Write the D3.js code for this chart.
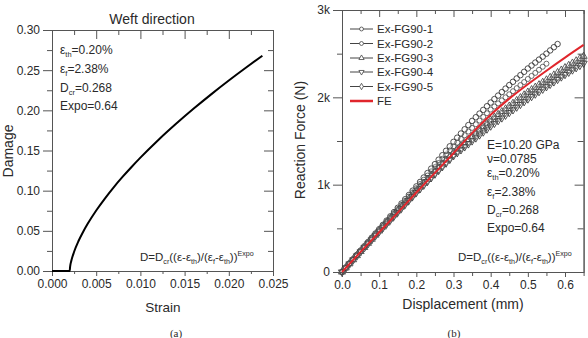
<!DOCTYPE html>
<html><head><meta charset="utf-8">
<script src="https://cdn.jsdelivr.net/npm/d3@7"></script>
<style>
body{margin:0;background:#fff}
svg{font-family:"Liberation Sans",Arial,sans-serif}
</style></head>
<body><svg id="c" width="588" height="338"></svg>
<script>
// ---------- DATA: panel (a) ----------
const strain = [0, 0.001, 0.002, 0.00205, 0.0022, 0.0025, 0.003, 0.0035, 0.004, 0.005, 0.006, 0.007, 0.008, 0.009, 0.010, 0.012, 0.014, 0.016, 0.018, 0.020, 0.022, 0.0238];
const damage = [0, 0, 0, 0.0055, 0.0133, 0.0239, 0.0373, 0.0483, 0.0581, 0.0753, 0.0905, 0.1045, 0.1174, 0.1295, 0.1411, 0.1628, 0.1829, 0.2019, 0.2199, 0.2371, 0.2536, 0.268];
const strainTicks = [0, 0.005, 0.010, 0.015, 0.020, 0.025];
const strainMinor = [0.0025, 0.0075, 0.0125, 0.0175, 0.0225];
const damageTicks = [0, 0.05, 0.10, 0.15, 0.20, 0.25, 0.30];
const damageMinor = [0.025, 0.075, 0.125, 0.175, 0.225, 0.275];
const titleA = "Weft direction";
const annotA = [["ε","th","=0.20%"],["ε","f","=2.38%"],["D","cr","=0.268"],["Expo=0.64","",""]];

// ---------- DATA: panel (b) ----------
const displacement = [0,0.01,0.02,0.03,0.04,0.05,0.06,0.07,0.08,0.09,0.10,0.11,0.12,0.13,0.14,0.15,0.16,0.17,0.18,0.19,0.20,0.21,0.22,0.23,0.24,0.25,0.26,0.27,0.28,0.29,0.30,0.31,0.32,0.33,0.34,0.35,0.36,0.37,0.38,0.39,0.40,0.41,0.42,0.43,0.44,0.45,0.46,0.47,0.48,0.49,0.50,0.51,0.52,0.53,0.54,0.55,0.56,0.57,0.58,0.59,0.60,0.61,0.62,0.63,0.64,0.65];
const force1 = [0,49,98,147,196,245,294,343,392,441,490,539,588,637,686,735,784,833,882,931,980,1031,1082,1133,1184,1235,1286,1337,1388,1439,1490,1538,1586,1634,1682,1730,1772,1814,1856,1898,1940,1980,2020,2060,2100,2140,2178,2216,2254,2292,2330,2364,2398,2432,2466,2500,2537,2574,2610];
const force2 = [0,48,96,144,192,240,288,336,384,432,480,528,576,624,672,720,768,816,864,912,960,1008,1056,1104,1152,1200,1248,1296,1344,1392,1440,1482,1524,1566,1608,1650,1692,1734,1776,1818,1860,1895,1930,1965,2000,2035,2070,2105,2140,2175,2210,2245,2280,2315,2350,2385];
const force3 = [0,47,94,141,188,235,282,329,376,423,470,516,562,608,654,700,746,792,838,884,930,974,1018,1062,1106,1150,1194,1238,1282,1326,1370,1407,1444,1481,1518,1555,1592,1629,1666,1703,1740,1772,1804,1836,1868,1900,1932,1964,1996,2028,2060,2088,2116,2144,2172,2200,2228,2256,2284,2312,2340,2366,2392,2418,2444,2470];
const force4 = [0,46,92,138,184,230,276,322,368,414,460,505,550,595,640,685,730,775,820,865,910,952,994,1036,1078,1120,1162,1204,1246,1288,1330,1364,1398,1432,1466,1500,1534,1568,1602,1636,1670,1701,1732,1763,1794,1825,1856,1887,1918,1949,1980,2008,2036,2064,2092,2120,2148,2176,2204,2232,2260,2286,2312,2338,2364,2390];
const force5 = [0,47,94,141,188,235,282,329,376,423,470,515,560,605,650,695,740,785,830,875,920,963,1006,1049,1092,1135,1178,1221,1264,1307,1350,1386,1422,1458,1494,1530,1566,1602,1638,1674,1710,1741,1772,1803,1834,1865,1896,1927,1958,1989,2020,2047,2074,2101,2128,2155,2182,2209,2236,2263,2290,2318,2346,2374,2402,2430];
const feDisp = [0,0.05,0.10,0.15,0.20,0.25,0.30,0.35,0.40,0.45,0.50,0.55,0.60,0.65];
const feForce = [0,230,455,680,910,1135,1360,1590,1800,1985,2150,2305,2455,2600];
const seriesNames = ["Ex-FG90-1","Ex-FG90-2","Ex-FG90-3","Ex-FG90-4","Ex-FG90-5"];
const seriesForces = [force1, force2, force3, force4, force5];
const feName = "FE";
const dispTicks = [0,0.1,0.2,0.3,0.4,0.5,0.6];
const dispMinor = [0.05,0.15,0.25,0.35,0.45,0.55,0.65];
const forceTicks = [0,1000,2000,3000];
const forceTickLabels = ["0","1k","2k","3k"];
const forceMinor = [500,1500,2500];
const annotB = [["E=10.20 GPa","",""],["ν=0.0785","",""],["ε","th","=0.20%"],["ε","f","=2.38%"],["D","cr","=0.268"],["Expo=0.64","",""]];
const formulaParts = [["D=D","n"],["cr","sub"],["((ε-ε","n"],["th","sub"],[")/(ε","n"],["f","sub"],["-ε","n"],["th","sub"],["))","n"],["Expo","sup"]];

// ---------- DRAW ----------
const svg = d3.select("#c");
const INK = "#2a2a2a", AX = "#555";
const SANS = "'Liberation Sans',Arial,sans-serif";

function axes(g, x, y, o) {
  const [x0,x1] = x.range(), [y0,y1] = y.range();
  const add = (gen, tr, vals, len, fmt) => {
    const a = g.append("g").attr("transform", tr)
      .call(gen.tickValues(vals).tickSizeInner(len).tickSizeOuter(0).tickPadding(3).tickFormat(fmt || (()=>"")));
    a.attr("font-family", SANS);
    a.select(".domain").attr("stroke", AX);
    a.selectAll(".tick line").attr("stroke", AX);
    a.selectAll("text").attr("fill", INK).attr("font-size", 12);
    return a;
  };
  add(d3.axisBottom(x), `translate(0,${y0})`, o.xt, o.bMaj, o.xf);
  add(d3.axisBottom(x), `translate(0,${y0})`, o.xm, o.bMin);
  add(d3.axisTop(x), `translate(0,${y1})`, o.xt, -o.tMaj);
  add(d3.axisTop(x), `translate(0,${y1})`, o.xm, -o.tMin);
  add(d3.axisLeft(y), `translate(${x0},0)`, o.yt, o.lMaj, o.yf);
  add(d3.axisLeft(y), `translate(${x0},0)`, o.ym, o.lMin);
  add(d3.axisRight(y), `translate(${x1},0)`, o.yt, -o.rMaj);
  add(d3.axisRight(y), `translate(${x1},0)`, o.ym, -o.rMin);
}

function rich(g, x, y, parts, size) {
  const t = g.append("text").attr("x", x).attr("y", y).attr("font-size", size).attr("fill", INK);
  let shift = 0;
  parts.forEach(([s, k]) => {
    if (!s) return;
    const target = k === "sub" ? 3 : k === "sup" ? -5 : 0;
    const ts = t.append("tspan").text(s).attr("dy", target - shift);
    if (k !== "n") ts.attr("font-size", size * 0.62);
    shift = target;
  });
  return t;
}

// ----- panel (a) -----
const gA = svg.append("g");
const xA = d3.scaleLinear([0, 0.025], [52, 273]);
const yA = d3.scaleLinear([0, 0.30], [271, 30]);
axes(gA, xA, yA, {
  xt: strainTicks, xm: strainMinor, yt: damageTicks, ym: damageMinor,
  xf: d3.format(".3f"), yf: d3.format(".2f"),
  bMaj: 5, bMin: 3, tMaj: 9, tMin: 5, lMaj: 9, lMin: 5, rMaj: 9, rMin: 5
});
gA.append("path")
  .attr("d", d3.line().x((d,i)=>xA(strain[i])).y(d=>yA(d)).curve(d3.curveMonotoneX)(damage))
  .attr("fill","none").attr("stroke","#000").attr("stroke-width",2);
gA.append("text").attr("x",152).attr("y",24).attr("text-anchor","middle").attr("font-size",14).attr("fill",INK).text(titleA);
gA.append("text").attr("x",163).attr("y",312).attr("text-anchor","middle").attr("font-size",13.5).attr("fill",INK).text("Strain");
gA.append("text").attr("transform","translate(13,151) rotate(-90)").attr("text-anchor","middle").attr("font-size",14).attr("fill",INK).text("Damage");
const annABase = [54, 73, 92, 110];
annotA.forEach((p, i) => rich(gA, 60, annABase[i], [[p[0],"n"],[p[1],"sub"],[p[2],"n"]], 12));
rich(gA, 140, 261, formulaParts, 11.5);
gA.append("text").attr("x",176).attr("y",337).attr("text-anchor","middle").attr("font-size",11).attr("font-family","'Liberation Serif','Times New Roman',serif").attr("fill",INK).text("(a)");

// ----- panel (b) -----
const gB = svg.append("g");
const xB = d3.scaleLinear([0, 0.65], [342, 583.6]);
const yB = d3.scaleLinear([0, 3000], [272, 10]);
axes(gB, xB, yB, {
  xt: dispTicks, xm: dispMinor, yt: forceTicks, ym: forceMinor,
  xf: d3.format(".1f"), yf: (d) => forceTickLabels[forceTicks.indexOf(d)],
  bMaj: 5, bMin: 4, tMaj: 7, tMin: 4, lMaj: 9, lMin: 5, rMaj: 9, rMin: 6
});
const symbols = [
  {type: d3.symbolCircle, size: 24, rot: 0},
  {type: d3.symbolCircle, size: 20, rot: 0},
  {type: d3.symbolTriangle, size: 22, rot: 0},
  {type: d3.symbolTriangle, size: 22, rot: 180},
  {type: d3.symbolDiamond, size: 24, rot: 0}
];
const strokes = ["#333","#555","#444","#333","#666"];
seriesForces.forEach((f, s) => {
  const sym = d3.symbol().type(symbols[s].type).size(symbols[s].size);
  gB.append("g").selectAll("path").data(f).join("path")
    .attr("d", sym)
    .attr("transform", (d,i) => `translate(${xB(displacement[i])},${yB(d)}) rotate(${symbols[s].rot})`)
    .attr("fill","none").attr("stroke", strokes[s]).attr("stroke-width", 0.85);
});
gB.append("path")
  .attr("d", d3.line().x((d,i)=>xB(feDisp[i])).y(d=>yB(d)).curve(d3.curveMonotoneX)(feForce))
  .attr("fill","none").attr("stroke","#e0262c").attr("stroke-width",2);

// legend
const legY = [29, 43.5, 58, 72, 86.5, 101];
seriesNames.forEach((n, s) => {
  const y = legY[s];
  gB.append("line").attr("x1",350).attr("x2",373).attr("y1",y).attr("y2",y).attr("stroke","#444").attr("stroke-width",1);
  gB.append("path").attr("d", d3.symbol().type(symbols[s].type).size(12)())
    .attr("transform",`translate(361.5,${y}) rotate(${symbols[s].rot})`)
    .attr("fill","#fff").attr("stroke","#444").attr("stroke-width",0.8);
  gB.append("text").attr("x",377).attr("y",y+4).attr("font-size",11.5).attr("fill",INK).text(n);
});
gB.append("line").attr("x1",350).attr("x2",373).attr("y1",legY[5]).attr("y2",legY[5]).attr("stroke","#e0262c").attr("stroke-width",2.5);
gB.append("text").attr("x",377).attr("y",legY[5]+4).attr("font-size",11.5).attr("fill",INK).text(feName);

const annBBase = [149, 163, 177, 196, 214, 232];
annotB.forEach((p, i) => rich(gB, 487, annBBase[i], [[p[0],"n"],[p[1],"sub"],[p[2],"n"]], 12));
rich(gB, 458, 261, formulaParts, 11.5);
gB.append("text").attr("x",463).attr("y",309).attr("text-anchor","middle").attr("font-size",14).attr("fill",INK).text("Displacement (mm)");
gB.append("text").attr("transform","translate(305,140) rotate(-90)").attr("text-anchor","middle").attr("font-size",14).attr("fill",INK).text("Reaction Force (N)");
gB.append("text").attr("x",454).attr("y",337).attr("text-anchor","middle").attr("font-size",11).attr("font-family","'Liberation Serif','Times New Roman',serif").attr("fill",INK).text("(b)");
</script></body></html>
